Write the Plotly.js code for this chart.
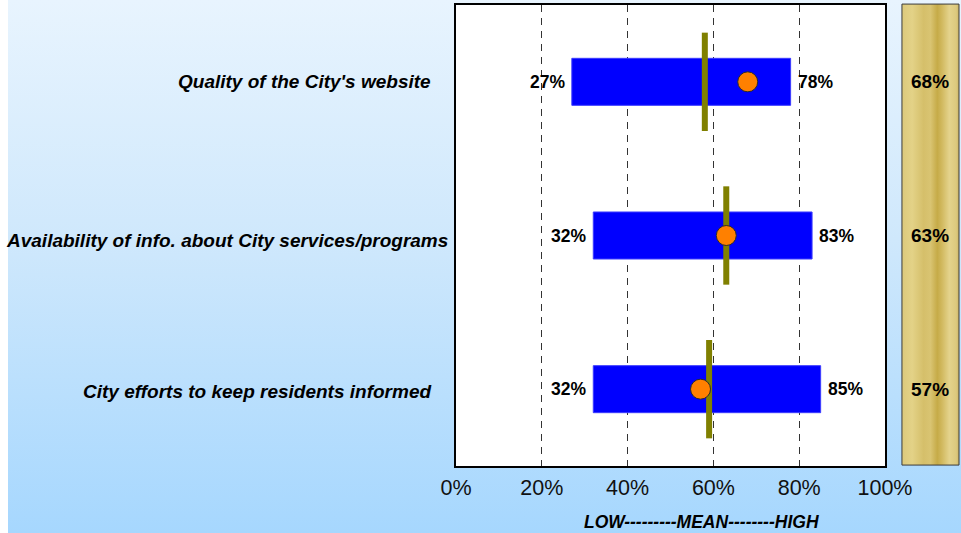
<!DOCTYPE html>
<html>
<head>
<meta charset="utf-8">
<script src="https://cdn.plot.ly/plotly-3.0.1.min.js"></script>
<style>
  html, body { margin: 0; padding: 0; background: #ffffff; }
  #chart {
    width: 961px; height: 533px;
    background: linear-gradient(to bottom, #E8F4FE 0%, #CFE8FC 45%, #A6D7FE 100%) 8px 0 / 953px 533px no-repeat, #ffffff;
  }
</style>
</head>
<body>
<div id="chart"></div>
<script>
// Survey items, top to bottom
const categories = [
  "Quality of the City's website",
  "Availability of info. about City services/programs",
  "City efforts to keep residents informed"
];
// Low / high end of the range for comparable cities (%)
const lowPct  = [27, 32, 32];
const highPct = [78, 83, 85];
// Mean of comparable cities (%)
const meanPct = [58, 63, 59];
// This city's score (%)
const cityPct = [68, 63, 57];
// Axis ticks
const xTicks = [0, 20, 40, 60, 80, 100];
const xTickText = ["0%", "20%", "40%", "60%", "80%", "100%"];

const FONT = "Liberation Sans, Arial, sans-serif";
const idx = categories.map((_, i) => i);

// Range bars: from low to high
const rangeBars = {
  type: 'bar', orientation: 'h',
  y: idx,
  base: lowPct,
  x: highPct.map((h, i) => h - lowPct[i]),
  width: 0.306,
  marker: { color: '#0000FF', line: { color: '#3C3CFF', width: 1 } },
  hoverinfo: 'skip', showlegend: false
};

// Mean markers: short vertical olive segments
const meanX = [], meanY = [];
meanPct.forEach((m, i) => { meanX.push(m, m, null); meanY.push(i - 0.32, i + 0.32, null); });
const meanLines = {
  type: 'scatter', mode: 'lines', x: meanX, y: meanY,
  line: { color: '#808000', width: 6 },
  hoverinfo: 'skip', showlegend: false
};

// City score dots
const cityDots = {
  type: 'scatter', mode: 'markers', x: cityPct, y: idx,
  marker: { size: 20, color: '#FF8000', line: { color: '#2a2a2a', width: 1 } },
  hoverinfo: 'skip', showlegend: false
};

const annotations = [];

// Low / high value labels beside each bar
lowPct.forEach((v, i) => annotations.push({
  xref: 'x', yref: 'y', x: v, y: i, xanchor: 'right', yanchor: 'middle', xshift: -5,
  text: '<b>' + v + '%</b>', showarrow: false,
  font: { family: FONT, size: 17.5, color: '#000' }
}));
highPct.forEach((v, i) => annotations.push({
  xref: 'x', yref: 'y', x: v, y: i, xanchor: 'left', yanchor: 'middle', xshift: 5,
  text: '<b>' + v + '%</b>', showarrow: false,
  font: { family: FONT, size: 17.5, color: '#000' }
}));

// Category labels to the left of the plot
const labelRight = [-0.054, -0.014, -0.054];
const labelShift = [0, -5, -2];
categories.forEach((c, i) => annotations.push({
  xref: 'paper', yref: 'y', x: labelRight[i], y: i,
  xanchor: 'right', yanchor: 'middle', yshift: labelShift[i],
  text: '<b><i>' + c + '</i></b>', showarrow: false,
  font: { family: FONT, size: 19, color: '#000' }
}));

// Score panel values
cityPct.forEach((v, i) => annotations.push({
  xref: 'paper', yref: 'y', x: 1.106, y: i,
  xanchor: 'center', yanchor: 'middle',
  text: '<b>' + v + '%</b>', showarrow: false,
  font: { family: FONT, size: 19, color: '#000' }
}));

// Axis caption
annotations.push({
  xref: 'paper', yref: 'paper', x: 0.572, y: -0.122,
  xanchor: 'center', yanchor: 'middle',
  text: '<b><i>LOW---------MEAN--------HIGH</i></b>', showarrow: false,
  font: { family: FONT, size: 17.5, color: '#000' }
});

// Gold panel artwork
const goldSvg =
  "<svg xmlns='http://www.w3.org/2000/svg' width='57' height='461' viewBox='0 0 57 461' preserveAspectRatio='none'>" +
  "<defs><linearGradient id='g' x1='0' y1='0' x2='1' y2='0'>" +
  "<stop offset='0' stop-color='#DCC97C'/>" +
  "<stop offset='0.18' stop-color='#E3D287'/>" +
  "<stop offset='0.38' stop-color='#D5BF6A'/>" +
  "<stop offset='0.5' stop-color='#D9C472'/>" +
  "<stop offset='0.62' stop-color='#C6AB48'/>" +
  "<stop offset='0.7' stop-color='#D1B95F'/>" +
  "<stop offset='0.83' stop-color='#E4D38C'/>" +
  "<stop offset='0.95' stop-color='#DCC97E'/>" +
  "<stop offset='1' stop-color='#CDB566'/>" +
  "</linearGradient></defs>" +
  "<rect x='0' y='0' width='57' height='461' fill='url(#g)'/></svg>";

const layout = {
  width: 961, height: 533,
  margin: { l: 456, r: 76, t: 5, b: 67, pad: 0 },
  paper_bgcolor: 'rgba(0,0,0,0)',
  plot_bgcolor: '#FFFFFF',
  showlegend: false,
  barmode: 'overlay',
  xaxis: {
    range: [0, 100], tickvals: xTicks, ticktext: xTickText,
    showgrid: true, gridcolor: '#333333', gridwidth: 1, griddash: '7px,6px',
    zeroline: false, showline: true, mirror: true, linecolor: '#000', linewidth: 2,
    ticks: '', ticklabelstandoff: 1,
    tickfont: { family: FONT, size: 21.5, color: '#111' },
    fixedrange: true
  },
  yaxis: {
    range: [2.5, -0.5], showticklabels: false, showgrid: false, zeroline: false,
    showline: true, mirror: true, linecolor: '#000', linewidth: 2, ticks: '',
    fixedrange: true
  },
  images: [{
    source: 'data:image/svg+xml;charset=utf-8,' + encodeURIComponent(goldSvg),
    xref: 'paper', yref: 'paper', x: 1.0395, y: 1.002, sizex: 0.133, sizey: 1.0,
    xanchor: 'left', yanchor: 'top', sizing: 'stretch', layer: 'below'
  }],
  shapes: [{
    type: 'rect', xref: 'paper', yref: 'paper',
    x0: 1.0395, x1: 1.1725, y0: 0.002, y1: 1.002,
    line: { color: '#3a3a3a', width: 1 }, fillcolor: 'rgba(0,0,0,0)'
  }],
  annotations: annotations
};

Plotly.newPlot('chart', [rangeBars, meanLines, cityDots], layout,
  { displayModeBar: false, staticPlot: true });
</script>
</body>
</html>
